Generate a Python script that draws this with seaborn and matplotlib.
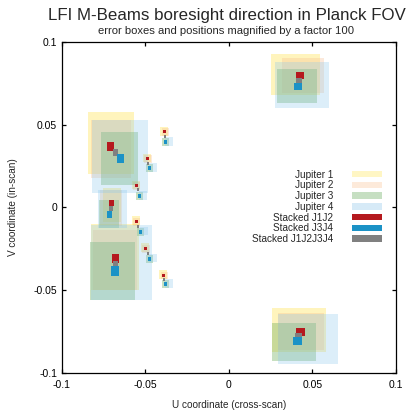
import numpy as np
import pandas as pd
import matplotlib
matplotlib.use("Agg")
import matplotlib.pyplot as plt
from matplotlib.patches import Patch
import seaborn as sns

# beams: 70 GHz (18-23), 44 GHz (24-26), 30 GHz (27-28)
beams = ["LFI18", "LFI19", "LFI20", "LFI21", "LFI22", "LFI23",
         "LFI24", "LFI25", "LFI26", "LFI27", "LFI28"]

# Jupiter transits: box centre (u, v) and full width / height (already x100)
j1_u = [-0.0389, -0.0491, -0.0557, -0.0557, -0.0503, -0.0395, -0.0701, -0.0707, -0.0683, 0.0398, 0.0419]
j1_v = [0.0462, 0.0299, 0.0136, -0.0079, -0.0242, -0.0405, 0.0015, 0.0390, -0.0299, 0.0804, -0.0740]
j1_w = [0.0048, 0.0048, 0.0048, 0.0048, 0.0048, 0.0048, 0.0108, 0.0275, 0.0287, 0.0293, 0.0323]
j1_h = [0.0054, 0.0054, 0.0054, 0.0054, 0.0054, 0.0054, 0.0205, 0.0375, 0.0399, 0.0248, 0.0266]

j2_u = [-0.0383, -0.0485, -0.0551, -0.0551, -0.0497, -0.0389, -0.0707, -0.0707, -0.0683, 0.0443, 0.0431]
j2_v = [0.0456, 0.0293, 0.0130, -0.0085, -0.0248, -0.0411, -0.0003, 0.0353, -0.0317, 0.0798, -0.0749]
j2_w = [0.0042, 0.0042, 0.0042, 0.0042, 0.0042, 0.0042, 0.0132, 0.0240, 0.0263, 0.0251, 0.0275]
j2_h = [0.0048, 0.0048, 0.0048, 0.0048, 0.0048, 0.0048, 0.0218, 0.0350, 0.0363, 0.0211, 0.0224]

j3_u = [-0.0380, -0.0476, -0.0536, -0.0530, -0.0476, -0.0380, -0.0719, -0.0656, -0.0698, 0.0407, 0.0389]
j3_v = [0.0393, 0.0236, 0.0069, -0.0148, -0.0311, -0.0465, -0.0039, 0.0296, -0.0384, 0.0734, -0.0813]
j3_w = [0.0042, 0.0042, 0.0042, 0.0042, 0.0042, 0.0042, 0.0120, 0.0222, 0.0269, 0.0240, 0.0263]
j3_h = [0.0048, 0.0048, 0.0048, 0.0048, 0.0048, 0.0048, 0.0169, 0.0320, 0.0350, 0.0205, 0.0230]

j4_u = [-0.0359, -0.0455, -0.0515, -0.0509, -0.0455, -0.0359, -0.0698, -0.0653, -0.0644, 0.0437, 0.0473]
j4_v = [0.0399, 0.0242, 0.0075, -0.0142, -0.0305, -0.0459, -0.0009, 0.0308, -0.0332, 0.0740, -0.0795]
j4_w = [0.0048, 0.0048, 0.0048, 0.0048, 0.0048, 0.0048, 0.0174, 0.0335, 0.0365, 0.0323, 0.0359]
j4_h = [0.0054, 0.0054, 0.0054, 0.0054, 0.0054, 0.0054, 0.0230, 0.0441, 0.0453, 0.0278, 0.0302]

# stacked solutions
s12_u = [-0.0386, -0.0488, -0.0554, -0.0554, -0.0500, -0.0392, -0.0704, -0.0710, -0.0680, 0.0425, 0.0428]
s12_v = [0.0459, 0.0296, 0.0133, -0.0082, -0.0245, -0.0408, 0.0027, 0.0369, -0.0308, 0.0798, -0.0752]
s12_w = [0.0018, 0.0018, 0.0018, 0.0018, 0.0018, 0.0018, 0.0030, 0.0042, 0.0042, 0.0048, 0.0054]
s12_h = [0.0018, 0.0018, 0.0018, 0.0018, 0.0018, 0.0018, 0.0036, 0.0054, 0.0054, 0.0042, 0.0048]

s34_u = [-0.0380, -0.0476, -0.0536, -0.0530, -0.0476, -0.0380, -0.0716, -0.0650, -0.0683, 0.0413, 0.0410]
s34_v = [0.0393, 0.0236, 0.0069, -0.0148, -0.0311, -0.0465, -0.0042, 0.0296, -0.0384, 0.0731, -0.0807]
s34_w = [0.0018, 0.0018, 0.0018, 0.0018, 0.0018, 0.0018, 0.0030, 0.0042, 0.0048, 0.0048, 0.0054]
s34_h = [0.0024, 0.0024, 0.0024, 0.0024, 0.0024, 0.0024, 0.0042, 0.0054, 0.0060, 0.0042, 0.0048]

sall_u = [-0.0383, -0.0485, -0.0545, -0.0545, -0.0485, -0.0389, -0.0707, -0.0680, -0.0680, 0.0419, 0.0416]
sall_v = [0.0429, 0.0266, 0.0106, -0.0115, -0.0278, -0.0435, -0.0006, 0.0332, -0.0344, 0.0767, -0.0776]
sall_w = [0.0012, 0.0012, 0.0012, 0.0012, 0.0012, 0.0012, 0.0024, 0.0030, 0.0030, 0.0036, 0.0042]
sall_h = [0.0018, 0.0018, 0.0018, 0.0018, 0.0018, 0.0018, 0.0030, 0.0042, 0.0042, 0.0030, 0.0036]

ticks = [-0.1, -0.05, 0, 0.05, 0.1]
tick_labels = ["-0.1", "-0.05", "0", "0.05", "0.1"]

sns.set_style("ticks")
plt.rcParams['font.family'] = ['Liberation Sans', 'DejaVu Sans']

fig = plt.figure(figsize=(4.15, 4.17), dpi=100)
ax = fig.add_axes([0.1494, 0.1055, 0.8048, 0.7938])

def boxes(u, v, w, h, color, alpha, label):
    u = np.array(u); v = np.array(v); w = np.array(w); h = np.array(h)
    ax.bar(u, h, width=w, bottom=v - h / 2, color=color, alpha=alpha,
           linewidth=0, label=label)

series = [
    (j1_u, j1_v, j1_w, j1_h, "#FFE45C", 0.40, "Jupiter 1"),
    (j2_u, j2_v, j2_w, j2_h, "#F8B98A", 0.30, "Jupiter 2"),
    (j3_u, j3_v, j3_w, j3_h, "#6FAE5E", 0.38, "Jupiter 3"),
    (j4_u, j4_v, j4_w, j4_h, "#8CC8EE", 0.30, "Jupiter 4"),
    (s12_u, s12_v, s12_w, s12_h, "#B5191E", 1.0, "Stacked J1J2"),
    (sall_u, sall_v, sall_w, sall_h, "#808080", 1.0, "Stacked J1J2J3J4"),
    (s34_u, s34_v, s34_w, s34_h, "#1B92C6", 1.0, "Stacked J3J4"),
]
for s in series:
    boxes(*s)

ax.set_xlim(-0.1, 0.1)
ax.set_ylim(-0.1, 0.1)
ax.set_xticks(ticks)
ax.set_xticklabels(tick_labels)
ax.set_yticks(ticks)
ax.set_yticklabels(tick_labels)
ax.tick_params(direction="in", top=True, right=True, length=3, width=0.9,
               labelsize=7.5, colors="black")
ax.tick_params(axis="x", pad=5)
ax.tick_params(axis="y", pad=3.5)
for sp in ax.spines.values():
    sp.set_linewidth(0.9)
    sp.set_color("black")

ax.set_xlabel("U coordinate (cross-scan)", fontsize=7.2, labelpad=7.5)
ax.set_ylabel("V coordinate (in-scan)", fontsize=7.2, labelpad=11)

fig.text(0.547, 0.962, "LFI M-Beams boresight direction in Planck FOV",
         ha="center", va="center", fontsize=12.2)
fig.text(0.545, 0.925, "error boxes and positions magnified by a factor 100",
         ha="center", va="center", fontsize=8.1)

leg_items = [("Jupiter 1", "#FFF6C4"), ("Jupiter 2", "#FDEADA"),
             ("Jupiter 3", "#C6DFC2"), ("Jupiter 4", "#D6EAF7"),
             ("Stacked J1J2", "#B5191E"), ("Stacked J3J4", "#1B92C6"),
             ("Stacked J1J2J3J4", "#808080")]
handles = [Patch(facecolor=c, edgecolor="none", label=l) for l, c in leg_items]
ax.legend(handles=handles, loc="upper right", bbox_to_anchor=(0.958, 0.614),
          frameon=False, markerfirst=False, fontsize=7.2, handlelength=3.0,
          handleheight=0.6, handletextpad=1.9, labelspacing=0.07,
          borderaxespad=0, borderpad=0)

fig.savefig("out.png", dpi=100)
